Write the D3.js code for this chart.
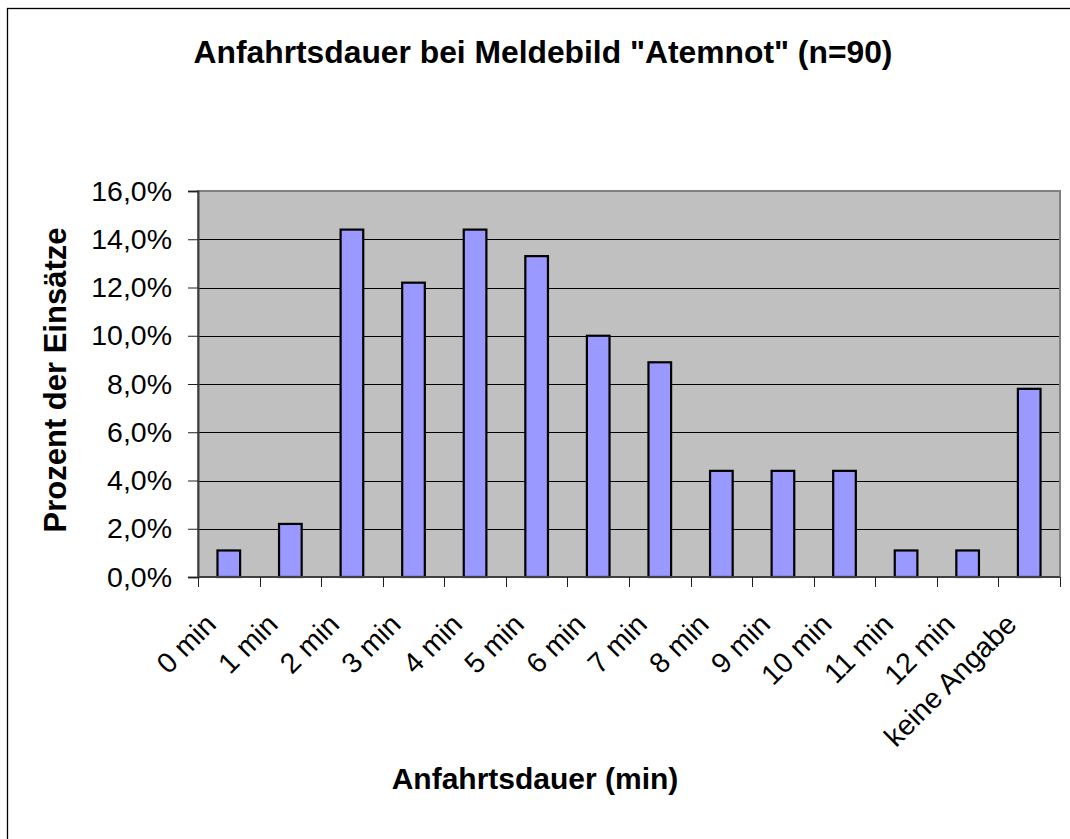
<!DOCTYPE html>
<html>
<head>
<meta charset="utf-8">
<script src="https://cdn.jsdelivr.net/npm/d3@7"></script>
<style>
  html, body { margin: 0; padding: 0; background: #fff; }
  svg { display: block; font-family: "Liberation Sans", Arial, sans-serif; }
</style>
</head>
<body>
<svg id="chart" width="1070" height="839"></svg>
<script>
const categories = ["0 min", "1 min", "2 min", "3 min", "4 min", "5 min", "6 min", "7 min", "8 min", "9 min", "10 min", "11 min", "12 min", "keine Angabe"];
const percentValues = [1.1, 2.2, 14.4, 12.2, 14.4, 13.3, 10.0, 8.9, 4.4, 4.4, 4.4, 1.1, 1.1, 7.8];
const yTickValues = [0, 2, 4, 6, 8, 10, 12, 14, 16];
const titleText = 'Anfahrtsdauer bei Meldebild "Atemnot" (n=90)';
const xTitleText = "Anfahrtsdauer (min)";
const yTitleText = "Prozent der Einsätze";

const svg = d3.select("#chart");
const plot = { left: 198, right: 1060, top: 191, bottom: 577 };

// outer chart frame (only top/left visible in reference)
svg.append("rect")
  .attr("x", 7.5).attr("y", 8.5)
  .attr("width", 1100).attr("height", 900)
  .attr("fill", "none").attr("stroke", "#000").attr("stroke-width", 1.3);

const x = d3.scaleBand()
  .domain(categories)
  .range([plot.left, plot.right])
  .paddingInner(0.6)
  .paddingOuter(0.3);

const xBound = d3.scaleBand()
  .domain(categories)
  .range([plot.left, plot.right])
  .padding(0);

const y = d3.scaleLinear().domain([0, 16]).range([plot.bottom, plot.top]);

// plot background
svg.append("rect")
  .attr("x", plot.left).attr("y", plot.top)
  .attr("width", plot.right - plot.left).attr("height", plot.bottom - plot.top)
  .attr("fill", "#C0C0C0");

// gridlines
svg.append("g")
  .selectAll("line")
  .data(yTickValues.filter(v => v > 0 && v < 16))
  .join("line")
  .attr("x1", plot.left).attr("x2", plot.right)
  .attr("y1", d => Math.round(y(d)) + 0.5).attr("y2", d => Math.round(y(d)) + 0.5)
  .attr("stroke", "#000").attr("stroke-width", 1);

// plot border
svg.append("rect")
  .attr("x", plot.left).attr("y", plot.top)
  .attr("width", plot.right - plot.left).attr("height", plot.bottom - plot.top)
  .attr("fill", "none").attr("stroke", "#808080").attr("stroke-width", 2);

// bars
svg.append("g")
  .selectAll("rect")
  .data(percentValues)
  .join("rect")
  .attr("x", (d, i) => x(categories[i]) + 1)
  .attr("width", x.bandwidth() - 2)
  .attr("y", d => y(d))
  .attr("height", d => plot.bottom - y(d))
  .attr("fill", "#9999FF")
  .attr("stroke", "#000")
  .attr("stroke-width", 2.2);

// y axis
const yAxis = d3.axisLeft(y)
  .tickValues(yTickValues)
  .tickSize(10)
  .tickPadding(16)
  .tickFormat(d => d3.format(".1f")(d).replace(".", ",") + "%");
const gy = svg.append("g")
  .attr("transform", `translate(${plot.left},0)`)
  .call(yAxis);
gy.select(".domain").attr("stroke", "#404040").attr("stroke-width", 2);
gy.selectAll(".tick line").attr("stroke", "#202020").attr("stroke-width", 1);
gy.selectAll(".tick text")
  .attr("font-size", 28.5)
  .attr("fill", "#000")
  .attr("font-family", '"Liberation Sans", Arial, sans-serif');

// x axis baseline + ticks at boundaries
const boundaries = categories.map(c => xBound(c)).concat([plot.right]);
svg.append("line")
  .attr("x1", plot.left).attr("x2", plot.right)
  .attr("y1", plot.bottom).attr("y2", plot.bottom)
  .attr("stroke", "#404040").attr("stroke-width", 2);
svg.append("g")
  .selectAll("line")
  .data(boundaries)
  .join("line")
  .attr("x1", d => Math.round(d) + 0.5).attr("x2", d => Math.round(d) + 0.5)
  .attr("y1", plot.bottom).attr("y2", plot.bottom + 10)
  .attr("stroke", "#202020").attr("stroke-width", 1);

// x tick labels
svg.append("g")
  .selectAll("text")
  .data(categories)
  .join("text")
  .attr("transform", d => `translate(${xBound(d) + xBound.bandwidth() / 2 - 11},${626}) rotate(-45)`)
  .attr("text-anchor", "end")
  .attr("font-size", 28.5)
  .attr("fill", "#000")
  .text(d => d);

// titles
svg.append("text")
  .attr("x", 543).attr("y", 63)
  .attr("text-anchor", "middle")
  .attr("font-size", 31.8).attr("font-weight", "bold")
  .text(titleText);

svg.append("text")
  .attr("x", 535).attr("y", 789)
  .attr("text-anchor", "middle")
  .attr("font-size", 30).attr("font-weight", "bold")
  .text(xTitleText);

svg.append("text")
  .attr("transform", "translate(66,380) rotate(-90)")
  .attr("text-anchor", "middle")
  .attr("font-size", 31).attr("font-weight", "bold")
  .text(yTitleText);
</script>
</body>
</html>
